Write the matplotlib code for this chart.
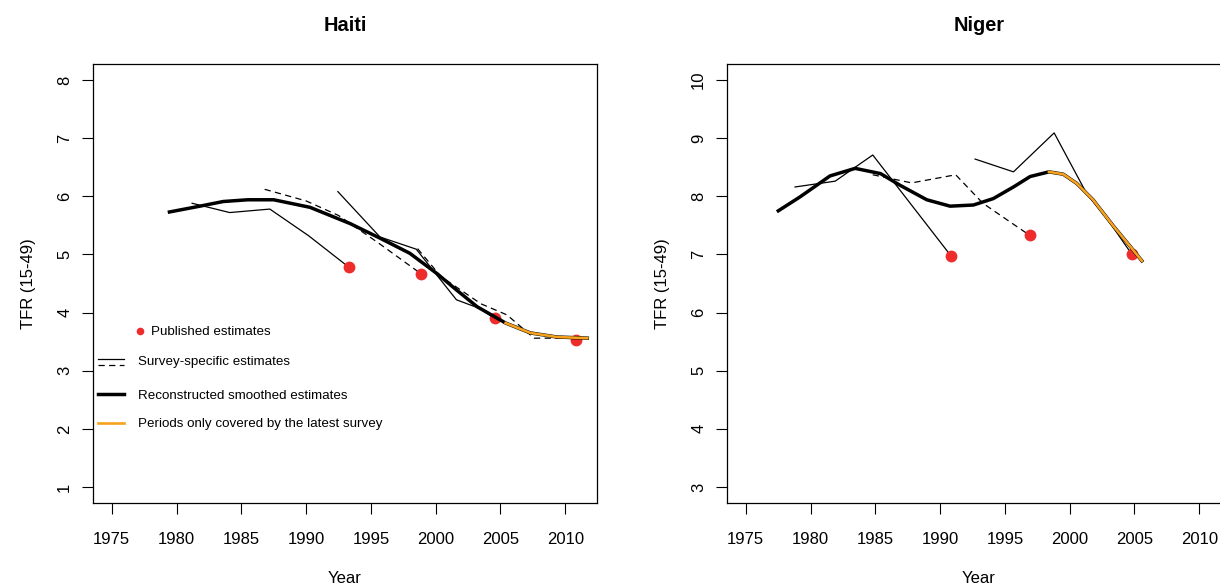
import numpy as np
import matplotlib
matplotlib.use("Agg")
import matplotlib.pyplot as plt

plt.rcParams['font.family'] = ['Liberation Sans', 'DejaVu Sans']

#%%
# data (year, TFR)
years = [1975, 1980, 1985, 1990, 1995, 2000, 2005, 2010]

# Haiti
haiti_pub_year = [1993.3, 1998.85, 2004.55, 2010.8]
haiti_pub_tfr = [4.78, 4.67, 3.90, 3.52]

haiti_s1_year = [1981.2, 1984.1, 1987.2, 1990.2, 1993.3]
haiti_s1_tfr = [5.88, 5.72, 5.78, 5.32, 4.78]
haiti_d1_year = [1986.8, 1990.0, 1992.5, 1995.5, 1998.85]
haiti_d1_tfr = [6.12, 5.92, 5.67, 5.21, 4.67]
haiti_s2_year = [1992.45, 1995.7, 1998.5, 2001.6, 2003.4, 2004.55]
haiti_s2_tfr = [6.08, 5.30, 5.09, 4.22, 4.07, 3.90]
haiti_d2_year = [1998.6, 2000.4, 2003.5, 2005.5, 2007.6, 2011.5]
haiti_d2_tfr = [5.10, 4.62, 4.15, 3.96, 3.56, 3.56]

haiti_smooth_year = [1979.45, 1981.8, 1983.6, 1985.5, 1987.5, 1990.3, 1993.4, 1995.7,
                     1998.0, 2000.1, 2001.6, 2003.2, 2005.4, 2007.3, 2009.35, 2011.7]
haiti_smooth_tfr = [5.73, 5.83, 5.91, 5.94, 5.94, 5.81, 5.53, 5.28,
                    5.02, 4.67, 4.39, 4.10, 3.82, 3.65, 3.58, 3.56]
haiti_latest_from = 2005.4

# Niger
niger_pub_year = [1990.82, 1996.9, 2004.8]
niger_pub_tfr = [6.98, 7.33, 7.00]

niger_s1_year = [1978.8, 1981.9, 1984.8, 1990.82]
niger_s1_tfr = [8.16, 8.26, 8.71, 6.98]
niger_d1_year = [1984.8, 1987.8, 1991.2, 1993.3, 1996.9]
niger_d1_tfr = [8.37, 8.23, 8.37, 7.88, 7.33]
niger_s2_year = [1992.7, 1995.66, 1998.8, 2001.3, 2003.0, 2004.8]
niger_s2_tfr = [8.64, 8.42, 9.09, 8.05, 7.58, 7.00]

niger_smooth_year = [1977.51, 1979.19, 1981.5, 1983.44, 1985.4, 1986.9, 1988.97, 1990.77,
                     1992.57, 1994.1, 1995.66, 1996.95, 1998.4, 1999.5, 2000.55, 2001.8,
                     2003.4, 2004.7, 2005.57]
niger_smooth_tfr = [7.75, 7.99, 8.35, 8.48, 8.39, 8.19, 7.94, 7.83,
                    7.85, 7.96, 8.16, 8.34, 8.42, 8.38, 8.22, 7.94,
                    7.48, 7.13, 6.89]
niger_latest_from = 1998.4

red = '#EE2C2C'
orange = '#F6A21E'
dash = (5, 3.5)

W, H = 1220, 585
fig = plt.figure(figsize=(W / 100, H / 100), dpi=100)


def px_axes(x0, top, w, h):
    return fig.add_axes([x0 / W, (H - top - h) / H, w / W, h / H])


def draw_panel(ax, title, yticks, surveys, pub, smooth, latest_from):
    # survey-specific lines
    for (yr, tfr), ls in surveys:
        if ls == '--':
            ax.plot(yr, tfr, color='black', lw=0.9, dashes=dash, zorder=2)
        else:
            ax.plot(yr, tfr, color='black', lw=0.9, zorder=2)
    # published points
    ax.plot(pub[0], pub[1], 'o', color=red, ms=8.5, mec='none', zorder=3)
    # smoothed, with the latest-survey-only part in orange on top
    ax.plot(smooth[0], smooth[1], color='black', lw=2.5, zorder=4)
    sy = np.array(smooth[0])
    st = np.array(smooth[1])
    keep = sy >= latest_from
    ax.plot(sy[keep], st[keep], color=orange, lw=1.9, zorder=5)

    ax.set_xlim(1973.55, 2012.45)
    ax.set_ylim(yticks[0] - 0.275, yticks[-1] + 0.275)
    ax.set_xticks(years)
    ax.set_yticks(yticks)
    ax.tick_params(axis='both', length=8, width=0.8, labelsize=12)
    ax.tick_params(axis='x', pad=13)
    ax.tick_params(axis='y', pad=7)
    for lab in ax.get_yticklabels():
        lab.set_rotation(90)
        lab.set_va('center')
    for s in ax.spines.values():
        s.set_linewidth(0.9)
    ax.set_title(title, fontsize=14.4, fontweight='bold', pad=24)
    ax.set_xlabel('Year', fontsize=12)
    ax.xaxis.set_label_coords(0.5, -0.155)
    ax.set_ylabel('TFR (15-49)', fontsize=12)
    ax.yaxis.set_label_coords(-0.114, 0.5)


ax1 = px_axes(93, 64, 504, 439)
draw_panel(ax1, 'Haiti', list(range(1, 9)),
           [((haiti_s1_year, haiti_s1_tfr), '-'), ((haiti_d1_year, haiti_d1_tfr), '--'),
            ((haiti_s2_year, haiti_s2_tfr), '-'), ((haiti_d2_year, haiti_d2_tfr), '--')],
           (haiti_pub_year, haiti_pub_tfr), (haiti_smooth_year, haiti_smooth_tfr), haiti_latest_from)

ax2 = px_axes(727, 64, 504, 439)
draw_panel(ax2, 'Niger', list(range(3, 11)),
           [((niger_s1_year, niger_s1_tfr), '-'), ((niger_d1_year, niger_d1_tfr), '--'),
            ((niger_s2_year, niger_s2_tfr), '-')],
           (niger_pub_year, niger_pub_tfr), (niger_smooth_year, niger_smooth_tfr), niger_latest_from)


# legend, drawn by hand in the Haiti panel (pixel positions -> axes fraction)
def fx(x):
    return (x - 93) / 504


def fy(y):
    return (503 - y) / 439


tr = ax1.transAxes
ax1.plot([fx(139.5)], [fy(331)], 'o', color=red, ms=5.5, mec='none', transform=tr, clip_on=False)
ax1.text(fx(151), fy(332), 'Published estimates', fontsize=9.6, va='center', transform=tr)
ax1.plot([fx(98), fx(124)], [fy(358.5)] * 2, color='black', lw=0.9, transform=tr, clip_on=False)
ax1.plot([fx(98), fx(124)], [fy(364.5)] * 2, color='black', lw=0.9, dashes=dash, transform=tr, clip_on=False)
ax1.text(fx(137.7), fy(361.7), 'Survey-specific estimates', fontsize=9.6, va='center', transform=tr)
ax1.plot([fx(98), fx(124)], [fy(394)] * 2, color='black', lw=2.5, transform=tr, clip_on=False)
ax1.text(fx(137.7), fy(395.7), 'Reconstructed smoothed estimates', fontsize=9.6, va='center', transform=tr)
ax1.plot([fx(98), fx(124)], [fy(422.7)] * 2, color=orange, lw=1.9, transform=tr, clip_on=False)
ax1.text(fx(137.7), fy(424.3), 'Periods only covered by the latest survey', fontsize=9.6, va='center', transform=tr)

fig.savefig('out.png', dpi=100)
